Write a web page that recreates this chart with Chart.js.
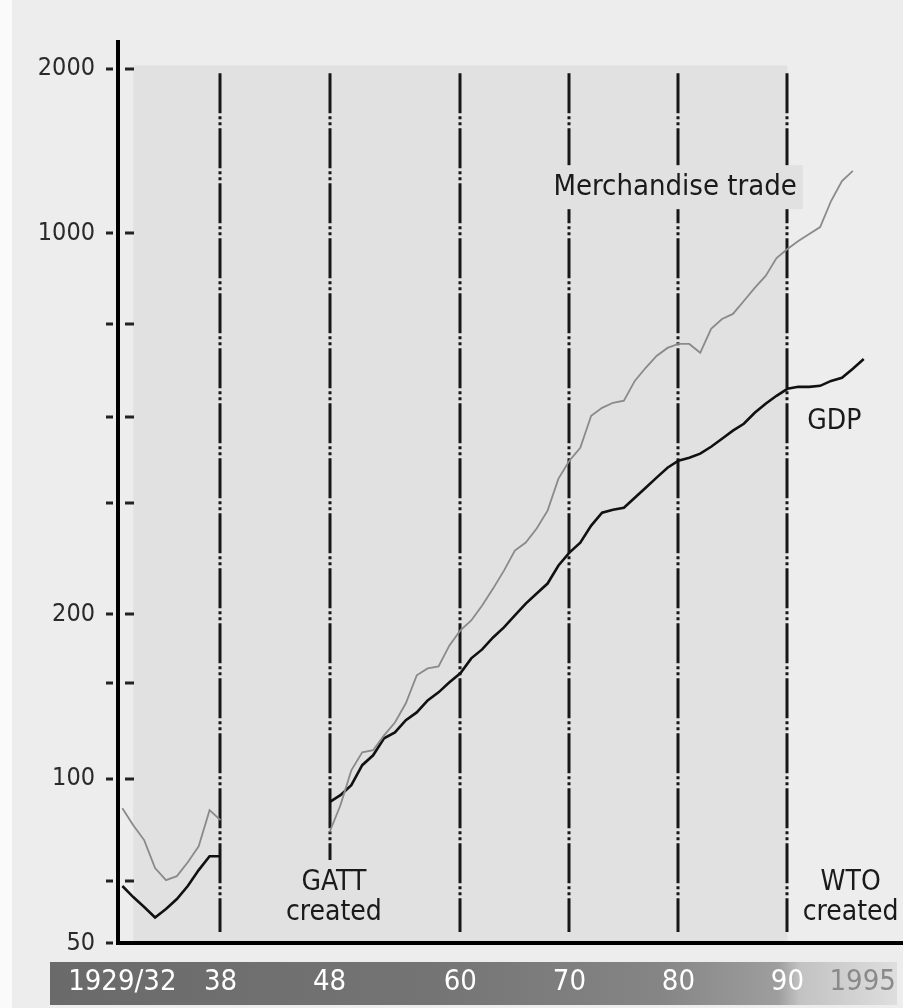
<!DOCTYPE html>
<html><head><meta charset="utf-8">
<script src="https://cdn.jsdelivr.net/npm/chart.js@4/dist/chart.umd.min.js"></script>
<style>html,body{margin:0;padding:0;background:#eeeeee;overflow:hidden}canvas{display:block}</style>
</head><body>
<canvas id="c" width="903" height="1008"></canvas>
<script>
// ---- data (index, log scale) ----
const prewarYears = [1929,1930,1931,1932,1933,1934,1935,1936,1937,1938];
const prewarTrade = [88.3,82.2,77.2,68.6,65.2,66.3,70.3,75.2,87.6,84.0];
const prewarGDP   = [63.6,60.7,58.2,55.7,57.7,60.2,63.6,68.0,72.1,72.1];

const postwarYears = [1948,1949,1950,1951,1952,1953,1954,1955,1956,1957,
  1958,1959,1960,1961,1962,1963,1964,1965,1966,1967,
  1968,1969,1970,1971,1972,1973,1974,1975,1976,1977,
  1978,1979,1980,1981,1982,1983,1984,1985,1986,1987,
  1988,1989,1990,1991,1992,1993,1994,1995,1996,1997];
const postwarTrade = [79.8,89.4,103.6,111.8,112.8,120.1,126.8,137.5,154.7,159.3,
  160.6,175.5,187.0,195.0,207.7,223.1,240.7,261.9,270.9,287.4,
  310.0,354.8,382.7,404.2,462.7,478.4,488.7,492.9,536.0,566.5,
  595.6,616.0,626.4,626.4,603.4,667.5,696.0,711.0,751.0,793.5,
  834.5,900.0,935.0,967.0,996.0,1026.0,1145.0,1245.0,1300.0];
const postwarGDP = [90.6,93.3,97.3,105.9,110.4,118.6,121.6,128.0,132.3,139.2,
  144.0,150.2,156.0,166.2,172.6,181.5,189.4,199.2,209.4,218.5,
  227.9,245.9,259.7,270.9,291.0,307.4,311.3,313.9,327.4,341.5,
  356.3,371.6,382.7,387.5,394.2,405.9,419.9,434.4,447.3,468.5,
  486.7,503.3,518.4,522.7,522.7,524.9,536.0,543.0,564.0,588.0];

const yTickValues = [50,65,100,150,200,320,460,680,1000,2000];
const yTickLabelled = [50,100,200,1000,2000];
const xTickYears  = [1929,1938,1948,1960,1970,1980,1990,1995];
const xTickLabels = ['1929/32','38','48','60','70','80','90','     1995'];
const markerYears   = [1938,1948,1960,1970,1980,1990];
const markerBottoms = [52.4,71,52.4,52.4,52.4,52.4];
const notes = [
  {text:'Merchandise trade', year:1979.7, value:1214, size:29, box:true},
  {text:'GDP', year:1994.3, value:451, size:28},
  {text:'GATT', year:1948.4, value:64.6, size:28},
  {text:'created', year:1948.4, value:56.7, size:28},
  {text:'WTO', year:1995.8, value:64.6, size:28},
  {text:'created', year:1995.8, value:56.7, size:28}
];

// ---- build points ----
function pts(years, vals){ return years.slice(0, vals.length).map((y,i)=>({x:y, y:vals[i]})); }
const gapPoint = {x:1943, y:null};
const tradePoints = pts(prewarYears, prewarTrade).concat([gapPoint], pts(postwarYears, postwarTrade));
const gdpPoints   = pts(prewarYears, prewarGDP).concat([gapPoint], pts(postwarYears, postwarGDP));

const FONT = "'DejaVu Sans Condensed', 'Liberation Sans Narrow', sans-serif";
const PAGE_BG = '#ededed', SHADE = '#e1e1e1';

const backdrop = {
  id:'backdrop',
  beforeDraw(chart){
    const {ctx, chartArea:a, scales:{x, y}} = chart;
    ctx.save();
    ctx.fillStyle = PAGE_BG; ctx.fillRect(0,0,chart.width,chart.height);
    ctx.fillStyle = '#fafafa'; ctx.fillRect(0,0,12,chart.height);
    ctx.fillStyle = SHADE;
    const sx0 = x.getPixelForValue(1930), sx1 = x.getPixelForValue(1990);
    const sy0 = y.getPixelForValue(2030), sy1 = a.bottom - 2;
    ctx.fillRect(sx0, sy0, sx1 - sx0, sy1 - sy0);
    const by0 = a.bottom + 19, by1 = chart.height - 3;
    const bx0 = 50, bx1 = chart.width - 6;
    const g = ctx.createLinearGradient(bx0,0,bx1,0);
    g.addColorStop(0,'#6a6a6a');
    g.addColorStop(0.45,'#747474');
    g.addColorStop(0.72,'#858585');
    g.addColorStop(0.86,'#9e9e9e');
    g.addColorStop(0.885,'#c2c2c2');
    g.addColorStop(1,'#dedede');
    ctx.fillStyle = g; ctx.fillRect(bx0, by0, bx1 - bx0, by1 - by0);
    ctx.restore();
  },
  beforeDatasetsDraw(chart){
    const {ctx, scales:{x, y}} = chart;
    ctx.save();
    ctx.strokeStyle = '#161616'; ctx.lineWidth = 3;
    ctx.setLineDash([40,3,3,3,3,3]);
    markerYears.forEach((yr,i)=>{
      const px = Math.round(x.getPixelForValue(yr));
      ctx.beginPath();
      ctx.moveTo(px, y.getPixelForValue(1963));
      ctx.lineTo(px, y.getPixelForValue(markerBottoms[i]));
      ctx.stroke();
    });
    ctx.setLineDash([]);
    notes.forEach(n=>{
      ctx.font = n.size + 'px ' + FONT;
      ctx.textAlign = 'center'; ctx.textBaseline = 'middle';
      const px = x.getPixelForValue(n.year), py = y.getPixelForValue(n.value);
      if (n.box){
        const w = ctx.measureText(n.text).width;
        ctx.fillStyle = SHADE;
        ctx.fillRect(px - w/2 - 6, py - 22, w + 12, 44);
      }
      ctx.fillStyle = '#1a1a1a';
      ctx.fillText(n.text, px, py);
    });
    ctx.restore();
  },
  afterDraw(chart){
    const {ctx, chartArea:a, scales:{y}} = chart;
    ctx.save();
    ctx.strokeStyle = '#222'; ctx.lineWidth = 3;
    y.ticks.forEach(t=>{
      const py = Math.round(y.getPixelForValue(t.value));
      ctx.beginPath();
      ctx.moveTo(a.left - 12, py); ctx.lineTo(a.left - 5, py);
      if (t.value > 50){ ctx.moveTo(a.left + 7, py); ctx.lineTo(a.left + 16, py); }
      ctx.stroke();
    });
    ctx.restore();
  }
};

function noPad(s){ s.paddingLeft = 0; s.paddingRight = 0; s.paddingTop = 0; s.paddingBottom = 0; }

new Chart(document.getElementById('c').getContext('2d'), {
  type:'line',
  data:{datasets:[
    {label:'Merchandise trade', data:tradePoints, borderColor:'#8a8a8a', borderWidth:1.8, pointRadius:0, tension:0, spanGaps:false},
    {label:'GDP', data:gdpPoints, borderColor:'#111111', borderWidth:2.6, pointRadius:0, tension:0, spanGaps:false}
  ]},
  options:{
    responsive:false, animation:false, devicePixelRatio:1,
    layout:{padding:{top:42,left:0,right:0,bottom:0}},
    plugins:{legend:{display:false}, tooltip:{enabled:false}},
    scales:{
      x:{type:'linear', min:1928.6, max:2000.6,
        grid:{display:false, drawTicks:false},
        border:{display:true, width:4, color:'#000'},
        afterBuildTicks:s=>{ s.ticks = xTickYears.map(v=>({value:v})); },
        afterFit:s=>{ s.height = 65; noPad(s); },
        ticks:{autoSkip:false, maxRotation:0, minRotation:0, padding:22,
          font:{family:FONT, size:29},
          color:c=> c.index === xTickYears.length-1 ? '#8a8a8a' : '#ffffff',
          callback:(v,i)=> xTickLabels[i]}
      },
      y:{type:'logarithmic', min:50, max:2240,
        grid:{display:false, drawTicks:false},
        border:{display:true, width:4, color:'#000'},
        afterBuildTicks:s=>{ s.ticks = yTickValues.map(v=>({value:v})); },
        afterFit:s=>{ s.width = 118; noPad(s); },
        ticks:{autoSkip:false, padding:23, font:{family:FONT, size:25}, color:'#2a2a2a',
          callback:(v)=> yTickLabelled.includes(v) ? String(v) : ''}
      }
    }
  },
  plugins:[backdrop]
});
</script>
</body></html>
